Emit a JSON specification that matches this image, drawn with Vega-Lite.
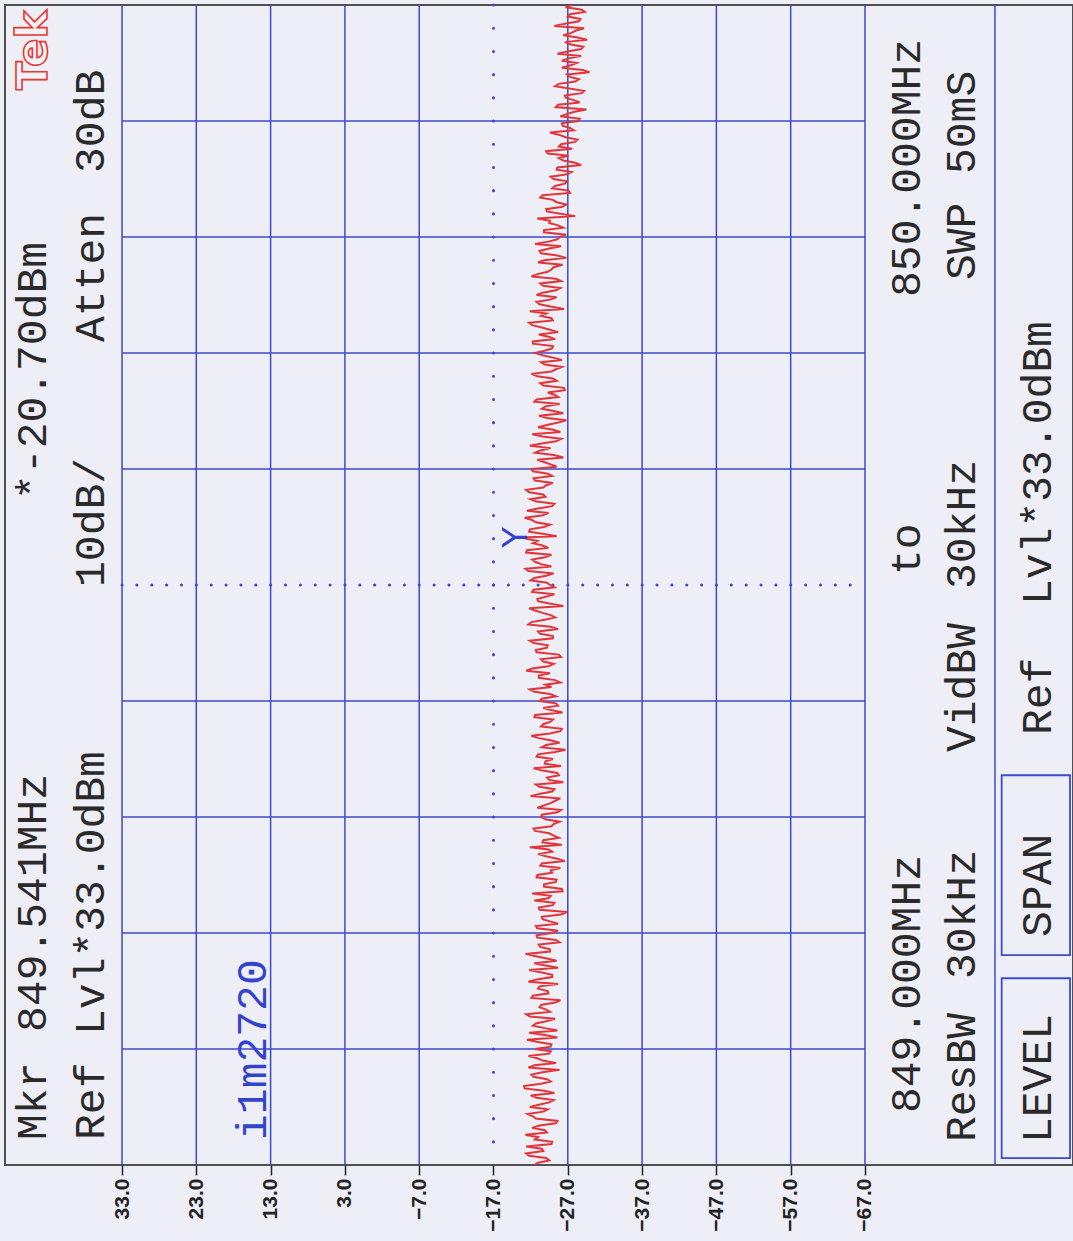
{
  "$schema": "https://vega.github.io/schema/vega-lite/v6.json",
  "autosize": {"type": "none"},
  "padding": {"left": 5, "top": 5, "right": 0, "bottom": 76},
  "width": 1068,
  "height": 1160,
  "config": {
    "background": "#eeeef7",
    "view": {"fill": "#eeeef7", "stroke": "#505050", "strokeWidth": 2}
  },
  "resolve": {"axis": {"x": "independent", "y": "independent"}},
  "datasets": {
    "vgrid": [{"a": 33}, {"a": 23}, {"a": 13}, {"a": 3}, {"a": -7}, {"a": -27}, {"a": -37}, {"a": -47}, {"a": -57}, {"a": -67}, {"a": -84.5}],
    "hgrid": [{"f": 849.1}, {"f": 849.2}, {"f": 849.3}, {"f": 849.4}, {"f": 849.6}, {"f": 849.7}, {"f": 849.8}, {"f": 849.9}],
    "boxes": [
      {"name": "LEVEL", "a1": -85.4, "a2": -94.6, "f1": 849.006, "f2": 849.161},
      {"name": "SPAN", "a1": -85.4, "a2": -94.6, "f1": 849.181, "f2": 849.336}
    ],
    "labels": [
      {"t": "Mkr", "a": 43.26, "f": 849.0216},
      {"t": "849.541MHz", "a": 43.26, "f": 849.1147},
      {"t": "*-20.70dBm", "a": 43.26, "f": 849.5733},
      {"t": "Ref", "a": 35.38, "f": 849.0216},
      {"t": "Lvl*33.0dBm", "a": 35.38, "f": 849.1121},
      {"t": "10dB/", "a": 35.38, "f": 849.4983},
      {"t": "Atten", "a": 35.38, "f": 849.7095},
      {"t": "30dB", "a": 35.38, "f": 849.8552},
      {"t": "849.000MHz", "a": -74.44, "f": 849.0448},
      {"t": "to", "a": -74.44, "f": 849.5086},
      {"t": "850.000MHz", "a": -74.44, "f": 849.7483},
      {"t": "ResBW", "a": -81.77, "f": 849.0198},
      {"t": "30kHz", "a": -81.77, "f": 849.1603},
      {"t": "VidBW", "a": -81.77, "f": 849.356},
      {"t": "30kHz", "a": -81.77, "f": 849.4966},
      {"t": "SWP", "a": -81.77, "f": 849.7629},
      {"t": "50mS", "a": -81.77, "f": 849.8543},
      {"t": "Ref", "a": -92.07, "f": 849.3707},
      {"t": "Lvl*33.0dBm", "a": -92.07, "f": 849.4828},
      {"t": "LEVEL", "a": -92.07, "f": 849.019},
      {"t": "SPAN", "a": -92.07, "f": 849.1966}
    ],
    "ident": [{"t": "i1m2720", "a": 13.58, "f": 849.0216}],
    "logo": [{"t": "Tek", "a": 43.1, "f": 849.9267}],
    "marker": [{"t": "Y", "a": -20.7, "f": 849.541}],
    "trace": [
      {"f":849.000,"a":-22.5},{"f":849.002,"a":-23.0},{"f":849.004,"a":-24.5},{"f":849.006,"a":-24.1},{"f":849.008,"a":-21.8},{"f":849.010,"a":-21.4},{"f":849.012,"a":-23.7},{"f":849.014,"a":-23.5},{"f":849.016,"a":-21.4},{"f":849.018,"a":-24.8},
      {"f":849.020,"a":-24.9},{"f":849.022,"a":-22.6},{"f":849.024,"a":-23.0},{"f":849.026,"a":-21.3},{"f":849.028,"a":-24.2},{"f":849.030,"a":-23.9},{"f":849.032,"a":-22.2},{"f":849.034,"a":-23.2},{"f":849.036,"a":-25.4},{"f":849.038,"a":-25.6},
      {"f":849.040,"a":-22.7},{"f":849.042,"a":-22.3},{"f":849.044,"a":-21.6},{"f":849.046,"a":-23.7},{"f":849.048,"a":-24.3},{"f":849.050,"a":-21.9},{"f":849.052,"a":-23.1},{"f":849.054,"a":-24.5},{"f":849.056,"a":-25.1},{"f":849.058,"a":-22.8},
      {"f":849.060,"a":-22.0},{"f":849.062,"a":-25.2},{"f":849.064,"a":-23.8},{"f":849.066,"a":-21.2},{"f":849.068,"a":-21.1},{"f":849.070,"a":-23.4},{"f":849.072,"a":-24.7},{"f":849.074,"a":-24.2},{"f":849.076,"a":-22.4},{"f":849.078,"a":-22.1},
      {"f":849.080,"a":-23.6},{"f":849.082,"a":-25.9},{"f":849.084,"a":-21.7},{"f":849.086,"a":-22.5},{"f":849.088,"a":-25.4},{"f":849.090,"a":-23.6},{"f":849.092,"a":-22.9},{"f":849.094,"a":-21.7},{"f":849.096,"a":-24.5},{"f":849.098,"a":-24.7},
      {"f":849.100,"a":-22.6},{"f":849.102,"a":-24.7},{"f":849.104,"a":-24.8},{"f":849.106,"a":-23.0},{"f":849.108,"a":-21.5},{"f":849.110,"a":-25.6},{"f":849.112,"a":-23.9},{"f":849.114,"a":-21.8},{"f":849.116,"a":-25.6},{"f":849.118,"a":-23.9},
      {"f":849.120,"a":-22.3},{"f":849.122,"a":-22.7},{"f":849.124,"a":-24.1},{"f":849.126,"a":-25.3},{"f":849.128,"a":-21.9},{"f":849.130,"a":-21.4},{"f":849.132,"a":-24.6},{"f":849.134,"a":-24.1},{"f":849.136,"a":-23.2},{"f":849.138,"a":-23.4},
      {"f":849.140,"a":-25.3},{"f":849.142,"a":-26.0},{"f":849.144,"a":-22.1},{"f":849.146,"a":-22.3},{"f":849.148,"a":-24.4},{"f":849.150,"a":-24.3},{"f":849.152,"a":-23.0},{"f":849.154,"a":-23.2},{"f":849.156,"a":-25.7},{"f":849.158,"a":-21.7},
      {"f":849.160,"a":-22.8},{"f":849.162,"a":-24.9},{"f":849.164,"a":-24.9},{"f":849.166,"a":-23.5},{"f":849.168,"a":-21.8},{"f":849.170,"a":-25.7},{"f":849.172,"a":-24.0},{"f":849.174,"a":-22.5},{"f":849.176,"a":-25.5},{"f":849.178,"a":-24.2},
      {"f":849.180,"a":-22.7},{"f":849.182,"a":-21.3},{"f":849.184,"a":-24.6},{"f":849.186,"a":-24.6},{"f":849.188,"a":-23.3},{"f":849.190,"a":-23.1},{"f":849.192,"a":-25.9},{"f":849.194,"a":-25.4},{"f":849.196,"a":-22.9},{"f":849.198,"a":-22.8},
      {"f":849.200,"a":-24.8},{"f":849.202,"a":-25.7},{"f":849.204,"a":-22.9},{"f":849.206,"a":-22.7},{"f":849.208,"a":-25.7},{"f":849.210,"a":-24.6},{"f":849.212,"a":-23.6},{"f":849.214,"a":-23.5},{"f":849.216,"a":-26.1},{"f":849.218,"a":-26.9},
      {"f":849.220,"a":-23.2},{"f":849.222,"a":-23.1},{"f":849.224,"a":-25.0},{"f":849.226,"a":-25.2},{"f":849.228,"a":-22.5},{"f":849.230,"a":-24.4},{"f":849.232,"a":-24.7},{"f":849.234,"a":-22.2},{"f":849.236,"a":-26.3},{"f":849.238,"a":-26.2},
      {"f":849.240,"a":-23.8},{"f":849.242,"a":-23.8},{"f":849.244,"a":-25.4},{"f":849.246,"a":-25.5},{"f":849.248,"a":-22.8},{"f":849.250,"a":-22.9},{"f":849.252,"a":-24.9},{"f":849.254,"a":-24.7},{"f":849.256,"a":-26.0},{"f":849.258,"a":-23.3},
      {"f":849.260,"a":-23.5},{"f":849.262,"a":-26.6},{"f":849.264,"a":-25.6},{"f":849.266,"a":-24.2},{"f":849.268,"a":-23.0},{"f":849.270,"a":-24.9},{"f":849.272,"a":-24.4},{"f":849.274,"a":-21.9},{"f":849.276,"a":-26.2},{"f":849.278,"a":-23.6},
      {"f":849.280,"a":-23.7},{"f":849.282,"a":-25.8},{"f":849.284,"a":-25.1},{"f":849.286,"a":-24.5},{"f":849.288,"a":-22.6},{"f":849.290,"a":-22.4},{"f":849.292,"a":-24.8},{"f":849.294,"a":-25.1},{"f":849.296,"a":-25.9},{"f":849.298,"a":-24.0},
      {"f":849.300,"a":-23.4},{"f":849.302,"a":-23.5},{"f":849.304,"a":-25.6},{"f":849.306,"a":-26.1},{"f":849.308,"a":-22.9},{"f":849.310,"a":-23.8},{"f":849.312,"a":-24.7},{"f":849.314,"a":-25.3},{"f":849.316,"a":-26.0},{"f":849.318,"a":-22.0},
      {"f":849.320,"a":-23.3},{"f":849.322,"a":-24.9},{"f":849.324,"a":-25.2},{"f":849.326,"a":-23.2},{"f":849.328,"a":-22.7},{"f":849.330,"a":-26.4},{"f":849.332,"a":-24.5},{"f":849.334,"a":-24.2},{"f":849.336,"a":-25.8},{"f":849.338,"a":-25.6},
      {"f":849.340,"a":-23.6},{"f":849.342,"a":-22.4},{"f":849.344,"a":-26.1},{"f":849.346,"a":-23.9},{"f":849.348,"a":-24.0},{"f":849.350,"a":-25.0},{"f":849.352,"a":-22.8},{"f":849.354,"a":-23.0},{"f":849.356,"a":-25.3},{"f":849.358,"a":-26.7},
      {"f":849.360,"a":-23.5},{"f":849.362,"a":-24.1},{"f":849.364,"a":-25.9},{"f":849.366,"a":-24.8},{"f":849.368,"a":-23.1},{"f":849.370,"a":-22.1},{"f":849.372,"a":-24.6},{"f":849.374,"a":-26.0},{"f":849.376,"a":-26.2},{"f":849.378,"a":-23.4},
      {"f":849.380,"a":-23.7},{"f":849.382,"a":-24.6},{"f":849.384,"a":-25.0},{"f":849.386,"a":-22.5},{"f":849.388,"a":-22.6},{"f":849.390,"a":-26.3},{"f":849.392,"a":-24.9},{"f":849.394,"a":-23.7},{"f":849.396,"a":-25.7},{"f":849.398,"a":-25.4},
      {"f":849.400,"a":-23.2},{"f":849.402,"a":-23.5},{"f":849.404,"a":-25.4},{"f":849.406,"a":-24.6},{"f":849.408,"a":-22.5},{"f":849.410,"a":-21.9},{"f":849.412,"a":-24.8},{"f":849.414,"a":-24.0},{"f":849.416,"a":-26.0},{"f":849.418,"a":-25.3},
      {"f":849.420,"a":-23.1},{"f":849.422,"a":-23.1},{"f":849.424,"a":-24.6},{"f":849.426,"a":-21.4},{"f":849.428,"a":-22.2},{"f":849.430,"a":-24.4},{"f":849.432,"a":-25.1},{"f":849.434,"a":-23.7},{"f":849.436,"a":-23.4},{"f":849.438,"a":-26.1},
      {"f":849.440,"a":-25.8},{"f":849.442,"a":-22.8},{"f":849.444,"a":-22.7},{"f":849.446,"a":-24.2},{"f":849.448,"a":-24.3},{"f":849.450,"a":-22.4},{"f":849.452,"a":-21.9},{"f":849.454,"a":-25.0},{"f":849.456,"a":-25.0},{"f":849.458,"a":-23.3},
      {"f":849.460,"a":-23.0},{"f":849.462,"a":-25.7},{"f":849.464,"a":-24.7},{"f":849.466,"a":-21.7},{"f":849.468,"a":-22.1},{"f":849.470,"a":-23.9},{"f":849.472,"a":-25.3},{"f":849.474,"a":-24.7},{"f":849.476,"a":-23.6},{"f":849.478,"a":-22.6},
      {"f":849.480,"a":-21.8},{"f":849.482,"a":-26.4},{"f":849.484,"a":-24.5},{"f":849.486,"a":-23.0},{"f":849.488,"a":-22.9},{"f":849.490,"a":-24.1},{"f":849.492,"a":-25.2},{"f":849.494,"a":-22.2},{"f":849.496,"a":-22.4},{"f":849.498,"a":-25.2},
      {"f":849.500,"a":-24.6},{"f":849.502,"a":-24.2},{"f":849.504,"a":-22.0},{"f":849.506,"a":-22.5},{"f":849.508,"a":-24.1},{"f":849.510,"a":-25.1},{"f":849.512,"a":-21.7},{"f":849.514,"a":-21.3},{"f":849.516,"a":-24.8},{"f":849.518,"a":-23.4},
      {"f":849.520,"a":-22.6},{"f":849.522,"a":-22.2},{"f":849.524,"a":-23.9},{"f":849.526,"a":-24.8},{"f":849.528,"a":-21.4},{"f":849.530,"a":-21.5},{"f":849.532,"a":-24.4},{"f":849.534,"a":-23.6},{"f":849.536,"a":-22.3},{"f":849.538,"a":-22.9},
      {"f":849.541,"a":-20.7},{"f":849.542,"a":-25.5},{"f":849.544,"a":-23.8},{"f":849.546,"a":-21.8},{"f":849.548,"a":-21.9},{"f":849.550,"a":-23.8},{"f":849.552,"a":-24.6},{"f":849.554,"a":-22.7},{"f":849.556,"a":-22.2},{"f":849.558,"a":-21.2},
      {"f":849.560,"a":-23.5},{"f":849.562,"a":-24.4},{"f":849.564,"a":-21.5},{"f":849.566,"a":-23.0},{"f":849.568,"a":-24.9},{"f":849.570,"a":-25.2},{"f":849.572,"a":-22.8},{"f":849.574,"a":-22.0},{"f":849.576,"a":-24.0},{"f":849.578,"a":-23.7},
      {"f":849.580,"a":-21.8},{"f":849.582,"a":-21.4},{"f":849.584,"a":-23.7},{"f":849.586,"a":-24.1},{"f":849.588,"a":-25.0},{"f":849.590,"a":-22.6},{"f":849.592,"a":-22.4},{"f":849.594,"a":-24.9},{"f":849.596,"a":-24.3},{"f":849.598,"a":-22.3},
      {"f":849.600,"a":-22.1},{"f":849.602,"a":-25.5},{"f":849.604,"a":-24.7},{"f":849.606,"a":-23.8},{"f":849.608,"a":-22.9},{"f":849.610,"a":-26.4},{"f":849.612,"a":-25.1},{"f":849.614,"a":-22.6},{"f":849.616,"a":-23.3},{"f":849.618,"a":-24.7},
      {"f":849.620,"a":-21.9},{"f":849.622,"a":-23.5},{"f":849.624,"a":-25.4},{"f":849.626,"a":-26.1},{"f":849.628,"a":-23.6},{"f":849.630,"a":-22.2},{"f":849.632,"a":-26.0},{"f":849.634,"a":-24.9},{"f":849.636,"a":-23.0},{"f":849.638,"a":-24.2},
      {"f":849.640,"a":-25.7},{"f":849.642,"a":-26.8},{"f":849.644,"a":-24.2},{"f":849.646,"a":-23.1},{"f":849.648,"a":-26.4},{"f":849.650,"a":-25.1},{"f":849.652,"a":-23.5},{"f":849.654,"a":-24.0},{"f":849.656,"a":-25.9},{"f":849.658,"a":-22.5},
      {"f":849.660,"a":-22.8},{"f":849.662,"a":-25.7},{"f":849.664,"a":-25.2},{"f":849.666,"a":-24.3},{"f":849.668,"a":-26.6},{"f":849.670,"a":-26.5},{"f":849.672,"a":-23.7},{"f":849.674,"a":-23.3},{"f":849.676,"a":-25.5},{"f":849.678,"a":-25.0},
      {"f":849.680,"a":-22.9},{"f":849.682,"a":-22.1},{"f":849.684,"a":-24.8},{"f":849.686,"a":-25.4},{"f":849.688,"a":-26.2},{"f":849.690,"a":-23.9},{"f":849.692,"a":-23.4},{"f":849.694,"a":-26.2},{"f":849.696,"a":-25.0},{"f":849.698,"a":-23.6},
      {"f":849.700,"a":-22.6},{"f":849.702,"a":-23.9},{"f":849.704,"a":-24.9},{"f":849.706,"a":-25.0},{"f":849.708,"a":-22.3},{"f":849.710,"a":-22.3},{"f":849.712,"a":-25.3},{"f":849.714,"a":-24.4},{"f":849.716,"a":-23.1},{"f":849.718,"a":-25.7},
      {"f":849.720,"a":-24.6},{"f":849.722,"a":-23.5},{"f":849.724,"a":-22.2},{"f":849.726,"a":-21.8},{"f":849.728,"a":-25.0},{"f":849.730,"a":-24.8},{"f":849.732,"a":-23.4},{"f":849.734,"a":-24.1},{"f":849.736,"a":-21.9},{"f":849.738,"a":-26.5},
      {"f":849.740,"a":-24.7},{"f":849.742,"a":-23.2},{"f":849.744,"a":-22.8},{"f":849.746,"a":-24.6},{"f":849.748,"a":-25.5},{"f":849.750,"a":-22.8},{"f":849.752,"a":-23.6},{"f":849.754,"a":-25.4},{"f":849.756,"a":-26.0},{"f":849.758,"a":-23.7},
      {"f":849.760,"a":-23.3},{"f":849.762,"a":-26.1},{"f":849.764,"a":-25.4},{"f":849.766,"a":-22.1},{"f":849.768,"a":-22.9},{"f":849.770,"a":-24.3},{"f":849.772,"a":-24.8},{"f":849.774,"a":-25.1},{"f":849.776,"a":-26.3},{"f":849.778,"a":-23.0},
      {"f":849.780,"a":-23.8},{"f":849.782,"a":-26.8},{"f":849.784,"a":-25.6},{"f":849.786,"a":-23.4},{"f":849.788,"a":-23.2},{"f":849.790,"a":-24.5},{"f":849.792,"a":-26.1},{"f":849.794,"a":-22.6},{"f":849.796,"a":-24.4},{"f":849.798,"a":-25.6},
      {"f":849.800,"a":-25.9},{"f":849.802,"a":-26.8},{"f":849.804,"a":-23.8},{"f":849.806,"a":-23.8},{"f":849.808,"a":-26.4},{"f":849.810,"a":-25.7},{"f":849.812,"a":-24.5},{"f":849.814,"a":-24.6},{"f":849.816,"a":-22.9},{"f":849.818,"a":-28.0},
      {"f":849.820,"a":-26.0},{"f":849.822,"a":-24.2},{"f":849.824,"a":-24.1},{"f":849.826,"a":-26.3},{"f":849.828,"a":-26.8},{"f":849.830,"a":-25.5},{"f":849.832,"a":-25.0},{"f":849.834,"a":-23.3},{"f":849.836,"a":-23.6},{"f":849.838,"a":-27.3},
      {"f":849.840,"a":-27.1},{"f":849.842,"a":-24.9},{"f":849.844,"a":-25.3},{"f":849.846,"a":-26.6},{"f":849.848,"a":-26.9},{"f":849.850,"a":-25.1},{"f":849.852,"a":-24.7},{"f":849.854,"a":-26.9},{"f":849.856,"a":-27.5},{"f":849.858,"a":-25.5},
      {"f":849.860,"a":-25.6},{"f":849.862,"a":-28.8},{"f":849.864,"a":-28.0},{"f":849.866,"a":-26.4},{"f":849.868,"a":-25.8},{"f":849.870,"a":-27.1},{"f":849.872,"a":-24.3},{"f":849.874,"a":-24.1},{"f":849.876,"a":-27.6},{"f":849.878,"a":-25.8},
      {"f":849.880,"a":-26.1},{"f":849.882,"a":-28.0},{"f":849.884,"a":-28.3},{"f":849.886,"a":-26.7},{"f":849.888,"a":-25.9},{"f":849.890,"a":-24.6},{"f":849.892,"a":-27.8},{"f":849.894,"a":-27.3},{"f":849.896,"a":-26.3},{"f":849.898,"a":-26.2},
      {"f":849.900,"a":-28.4},{"f":849.902,"a":-28.6},{"f":849.904,"a":-26.0},{"f":849.906,"a":-26.9},{"f":849.908,"a":-27.9},{"f":849.910,"a":-29.5},{"f":849.912,"a":-25.4},{"f":849.914,"a":-25.7},{"f":849.916,"a":-28.6},{"f":849.918,"a":-27.8},
      {"f":849.920,"a":-26.7},{"f":849.922,"a":-26.6},{"f":849.924,"a":-28.9},{"f":849.926,"a":-29.2},{"f":849.928,"a":-27.2},{"f":849.930,"a":-25.3},{"f":849.932,"a":-25.8},{"f":849.934,"a":-28.0},{"f":849.936,"a":-28.5},{"f":849.938,"a":-27.3},
      {"f":849.940,"a":-26.9},{"f":849.942,"a":-29.9},{"f":849.944,"a":-29.0},{"f":849.946,"a":-26.2},{"f":849.948,"a":-27.4},{"f":849.950,"a":-28.2},{"f":849.952,"a":-26.2},{"f":849.954,"a":-27.1},{"f":849.956,"a":-28.8},{"f":849.958,"a":-25.6},
      {"f":849.960,"a":-27.0},{"f":849.962,"a":-28.8},{"f":849.964,"a":-29.1},{"f":849.966,"a":-27.4},{"f":849.968,"a":-26.6},{"f":849.970,"a":-29.6},{"f":849.972,"a":-28.3},{"f":849.974,"a":-26.4},{"f":849.976,"a":-27.5},{"f":849.978,"a":-28.1},
      {"f":849.980,"a":-29.2},{"f":849.982,"a":-25.2},{"f":849.984,"a":-26.8},{"f":849.986,"a":-28.5},{"f":849.988,"a":-28.7},{"f":849.990,"a":-27.0},{"f":849.992,"a":-27.3},{"f":849.994,"a":-29.3},{"f":849.996,"a":-28.9},{"f":849.998,"a":-26.7},
      {"f":850.000,"a":-27.6}
    ]
  },
  "layer": [
    {
      "data": {"name": "vgrid"},
      "mark": {"type": "rule", "color": "#3a4ad2", "strokeWidth": 1.5},
      "encoding": {
        "x": {
          "field": "a", "type": "quantitative",
          "scale": {"domain": [-95, 48.75], "reverse": true, "nice": false, "zero": false},
          "axis": {
            "values": [33, 23, 13, 3, -7, -17, -27, -37, -47, -57, -67],
            "format": ".1f", "title": null, "grid": false, "domain": false,
            "tickSize": 10, "tickWidth": 1.5, "tickColor": "#222222",
            "labelAngle": -90, "labelFont": "Liberation Sans", "labelFontWeight": "bold",
            "labelFontSize": 21, "labelColor": "#222222", "labelPadding": 3,
            "labelOverlap": false, "labelBound": false, "labelFlush": false
          }
        }
      }
    },
    {
      "data": {"name": "hgrid"},
      "mark": {"type": "rule", "color": "#3a4ad2", "strokeWidth": 1.5},
      "encoding": {
        "y": {"field": "f", "type": "quantitative", "scale": {"domain": [849, 850], "nice": false, "zero": false}, "axis": null},
        "x": {"datum": 33, "type": "quantitative", "axis": null},
        "x2": {"datum": -67}
      }
    },
    {
      "data": {"values": [{"a": -17}]},
      "mark": {"type": "rule", "color": "#3a4ad2", "strokeWidth": 3, "strokeCap": "round", "strokeDash": [0.1, 23.1]},
      "encoding": {
        "x": {"field": "a", "type": "quantitative", "axis": null}
      }
    },
    {
      "data": {"values": [{"f": 849.5}]},
      "mark": {"type": "rule", "color": "#3a4ad2", "strokeWidth": 3, "strokeCap": "round", "strokeDash": [0.1, 14.76]},
      "encoding": {
        "y": {"field": "f", "type": "quantitative", "axis": null},
        "x": {"datum": 33, "type": "quantitative", "axis": null},
        "x2": {"datum": -67}
      }
    },
    {
      "data": {"name": "boxes"},
      "mark": {"type": "rect", "filled": false, "stroke": "#3a4ad2", "strokeWidth": 1.8},
      "encoding": {
        "x": {"field": "a1", "type": "quantitative", "axis": null},
        "x2": {"field": "a2"},
        "y": {"field": "f1", "type": "quantitative", "axis": null},
        "y2": {"field": "f2"}
      }
    },
    {
      "data": {"name": "labels"},
      "mark": {"type": "text", "angle": -90, "align": "left", "baseline": "alphabetic", "font": "Liberation Mono", "fontSize": 43, "color": "#2a2a2a"},
      "encoding": {
        "x": {"field": "a", "type": "quantitative", "axis": null},
        "y": {"field": "f", "type": "quantitative", "axis": null},
        "text": {"field": "t"}
      }
    },
    {
      "data": {"name": "ident"},
      "mark": {"type": "text", "angle": -90, "align": "left", "baseline": "alphabetic", "font": "Liberation Mono", "fontSize": 43, "color": "#3344cc"},
      "encoding": {
        "x": {"field": "a", "type": "quantitative", "axis": null},
        "y": {"field": "f", "type": "quantitative", "axis": null},
        "text": {"field": "t"}
      }
    },
    {
      "data": {"name": "logo"},
      "mark": {"type": "text", "angle": -90, "align": "left", "baseline": "alphabetic", "font": "DejaVu Sans", "fontWeight": "bold", "fontSize": 42, "fill": "#f4f2f6", "stroke": "#e53935", "strokeWidth": 1.6},
      "encoding": {
        "x": {"field": "a", "type": "quantitative", "axis": null},
        "y": {"field": "f", "type": "quantitative", "axis": null},
        "text": {"field": "t"}
      }
    },
    {
      "data": {"name": "trace"},
      "mark": {"type": "line", "color": "#e0363a", "strokeWidth": 2, "clip": true},
      "encoding": {
        "x": {"field": "a", "type": "quantitative", "axis": null},
        "y": {"field": "f", "type": "quantitative", "axis": null},
        "order": {"field": "f", "type": "quantitative"}
      }
    },
    {
      "data": {"name": "marker"},
      "mark": {"type": "text", "angle": -90, "align": "center", "baseline": "alphabetic", "dy": 6, "font": "DejaVu Sans", "fontSize": 34, "color": "#3344cc"},
      "encoding": {
        "x": {"field": "a", "type": "quantitative", "axis": null},
        "y": {"field": "f", "type": "quantitative", "axis": null},
        "text": {"field": "t"}
      }
    }
  ]
}
